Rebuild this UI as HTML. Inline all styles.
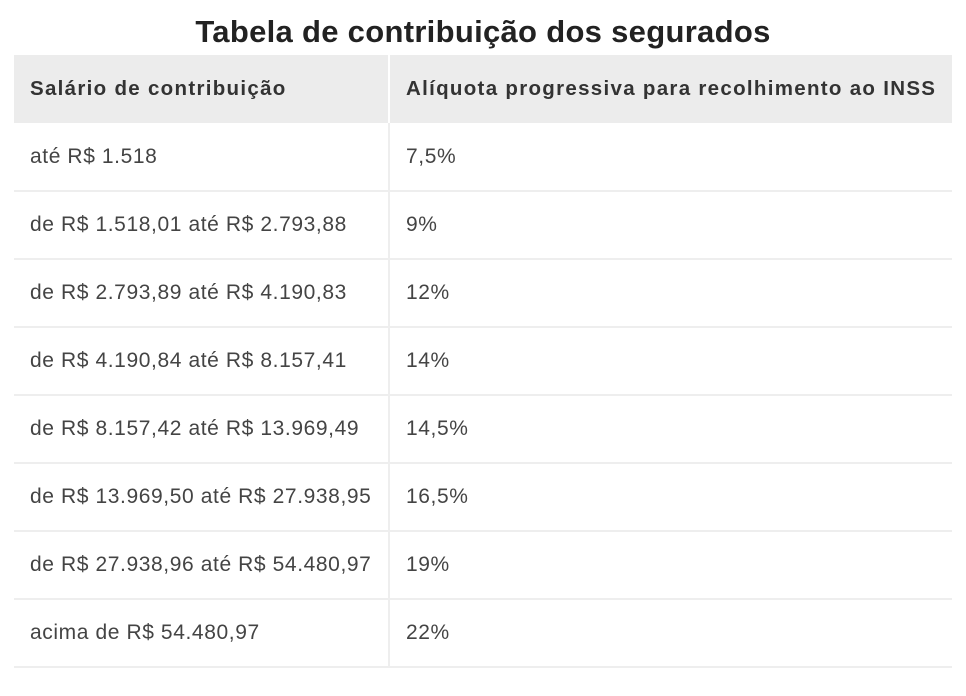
<!DOCTYPE html>
<html><head><meta charset="utf-8"><style>
body{margin:0;width:966px;height:696px;background:#fff;font-family:"Liberation Sans",sans-serif;overflow:hidden;position:relative}
h1{position:absolute;top:14px;left:0;width:966px;margin:0;text-align:center;font-size:31px;font-weight:bold;color:#222;letter-spacing:0.3px}
table{position:absolute;left:14px;top:55px;width:938px;border-collapse:collapse}
th,td{height:68px;padding:0 0 0 16px;text-align:left;font-size:21px;color:#444;box-sizing:border-box;letter-spacing:0.6px}
th{background:#ececec;color:#333;font-weight:bold;font-size:20.5px;letter-spacing:1.3px}
td{border-bottom:2px solid #eee}
th:first-child,td:first-child{width:375px;border-right:2px solid #eee}
th:first-child{border-right:2px solid #fff}
</style></head><body>
<h1>Tabela de contribuição dos segurados</h1>
<table>
<tr><th>Salário de contribuição</th><th>Alíquota progressiva para recolhimento ao INSS</th></tr>
<tr><td>até R$ 1.518</td><td>7,5%</td></tr>
<tr><td>de R$ 1.518,01 até R$ 2.793,88</td><td>9%</td></tr>
<tr><td>de R$ 2.793,89 até R$ 4.190,83</td><td>12%</td></tr>
<tr><td>de R$ 4.190,84 até R$ 8.157,41</td><td>14%</td></tr>
<tr><td>de R$ 8.157,42 até R$ 13.969,49</td><td>14,5%</td></tr>
<tr><td>de R$ 13.969,50 até R$ 27.938,95</td><td>16,5%</td></tr>
<tr><td>de R$ 27.938,96 até R$ 54.480,97</td><td>19%</td></tr>
<tr><td>acima de R$ 54.480,97</td><td>22%</td></tr>
</table>
</body></html>
